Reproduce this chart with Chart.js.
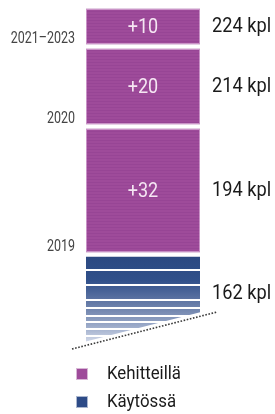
<!DOCTYPE html>
<html>
<head>
<meta charset="utf-8">
<script src="https://cdn.jsdelivr.net/npm/chart.js@4"></script>
<style>
  html, body { margin: 0; padding: 0; background: #fff; }
  #wrap { width: 275px; height: 414px; position: relative; }
</style>
</head>
<body>
<div id="wrap"><canvas id="kplChart"></canvas></div>
<script>
// data
const periods = ["2019", "2020", "2021–2023"];
const added = [32, 20, 10];
const inUse = 162;
const seriesNames = ["Kehitteillä", "Käytössä"];
const unit = "kpl";

const magenta = "#9e4b9a";
const blueDark = "#2d4b87";

// vaakaviivoitus magentaan
function stripePattern() {
  const c = document.createElement("canvas");
  c.width = 4; c.height = 3;
  const g = c.getContext("2d");
  g.fillStyle = magenta;
  g.fillRect(0, 0, 4, 3);
  g.fillStyle = "#974595";
  g.fillRect(0, 2, 4, 1);
  return g.createPattern(c, "repeat");
}

function blueGradient(context) {
  const chart = context.chart;
  const area = chart.chartArea;
  if (!area) return blueDark;
  const top = chart.scales.y.getPixelForValue(inUse);
  const g = chart.ctx.createLinearGradient(0, top, 0, area.bottom);
  g.addColorStop(0, "rgb(43,72,128)");
  g.addColorStop(0.3, "rgb(48,80,138)");
  g.addColorStop(0.45, "rgb(78,104,155)");
  g.addColorStop(0.62, "rgb(112,132,173)");
  g.addColorStop(0.8, "rgb(150,166,198)");
  g.addColorStop(1, "rgb(210,217,233)");
  return g;
}

const pattern = stripePattern();

const datasets = [{
  label: seriesNames[1],
  data: [inUse],
  backgroundColor: blueGradient,
  clip: 0
}].concat(periods.map((p, i) => ({
  label: p,
  data: [added[i]],
  backgroundColor: pattern,
  clip: 0
})));

const font = "Roboto, 'Liberation Sans', sans-serif";

// kapeutettu teksti (alkuperäinen fontti on condensed)
function text(ctx, str, x, y, size, sx, align, color, baseline) {
  ctx.save();
  ctx.font = size + "px " + font;
  ctx.fillStyle = color;
  ctx.textAlign = align;
  ctx.textBaseline = baseline || "middle";
  ctx.translate(x, y);
  ctx.scale(sx, 1);
  ctx.fillText(str, 0, 0);
  ctx.restore();
}

const labelPlugin = {
  id: "labels",
  afterDatasetsDraw(chart) {
    const ctx = chart.ctx;
    const area = chart.chartArea;
    ctx.save();

    // käytössä-palkin raidat ja katkaisu
    const blue = chart.getDatasetMeta(0).data[0];
    const bx0 = blue.x - blue.width / 2, bx1 = blue.x + blue.width / 2;
    const bTop = blue.y + 3, bBot = area.bottom;
    const h = bBot - bTop;
    ctx.strokeStyle = "#fff";
    ctx.lineWidth = 2;
    [0.15, 0.33, 0.5, 0.6, 0.69, 0.77, 0.85, 0.93].forEach(f => {
      const y = Math.round(bTop + f * h);
      ctx.beginPath();
      ctx.moveTo(bx0, y);
      ctx.lineTo(bx1 + 2, y);
      ctx.stroke();
    });

    // valkoinen kolmio + pisteviiva
    const x0 = 72, y0 = 349, x1 = 217, y1 = 312;
    const lineY = x => y0 + (x - x0) * (y1 - y0) / (x1 - x0);
    ctx.fillStyle = "#fff";
    ctx.beginPath();
    ctx.moveTo(bx0 - 4, lineY(bx0 - 4) - 4);
    ctx.lineTo(bx1 + 6, lineY(bx1 + 6) - 4);
    ctx.lineTo(bx1 + 6, bBot + 8);
    ctx.lineTo(bx0 - 4, bBot + 8);
    ctx.closePath();
    ctx.fill();

    ctx.strokeStyle = "#3a3a3a";
    ctx.lineWidth = 1.6;
    ctx.setLineDash([1.6, 1.6]);
    ctx.beginPath();
    ctx.moveTo(x0, y0);
    ctx.lineTo(x1, y1);
    ctx.stroke();
    ctx.setLineDash([]);

    // tekstit
    let total = inUse;
    text(ctx, inUse + " " + unit, 212, (bTop + bBot) / 2 - 6, 20, 0.91, "left", "#1a1a1a");

    periods.forEach((p, i) => {
      const bar = chart.getDatasetMeta(i + 1).data[0];
      const top = bar.y + 3, bot = bar.base - 2;
      const left = bar.x - bar.width / 2;
      const mid = (top + bot) / 2;
      total += added[i];

      ctx.strokeStyle = "rgba(255,235,255,0.45)";
      ctx.lineWidth = 1;
      ctx.strokeRect(left + 0.5, top + 0.5, bar.width - 1, bot - top - 1);

      text(ctx, "+" + added[i], bar.x, mid + 1, 20, 0.9, "center", "#f5e6f3");
      text(ctx, total + " " + unit, 212, mid, 20, 0.91, "left", "#1a1a1a");
      text(ctx, p, 75, bot - 1, 16, 0.78, "right", "#444", "alphabetic");
    });

    // selite
    const legend = [[seriesNames[0], magenta, 374], [seriesNames[1], blueDark, 402]];
    legend.forEach(([txt, col, y]) => {
      ctx.fillStyle = col;
      ctx.fillRect(76, y - 6, 12, 12);
      ctx.strokeStyle = "rgba(255,255,255,0.6)";
      ctx.lineWidth = 1;
      ctx.strokeRect(76.5, y - 5.5, 11, 11);
      text(ctx, txt, 107, y, 18.5, 0.91, "left", "#1a1a1a");
    });
    ctx.restore();
  }
};

new Chart(document.getElementById("kplChart"), {
  type: "bar",
  data: { labels: [""], datasets: datasets },
  options: {
    responsive: true,
    maintainAspectRatio: false,
    animation: false,
    layout: { padding: { top: 6, bottom: 72, left: 86, right: 75 } },
    datasets: {
      bar: {
        barPercentage: 1,
        categoryPercentage: 1,
        borderColor: "#fff",
        borderWidth: { top: 3, bottom: 2, left: 0, right: 0 },
        borderSkipped: false
      }
    },
    scales: {
      x: { stacked: true, display: false },
      y: { stacked: true, display: false, min: 140, max: 224 }
    },
    plugins: {
      legend: { display: false },
      tooltip: { enabled: false }
    }
  },
  plugins: [labelPlugin]
});
</script>
</body>
</html>
